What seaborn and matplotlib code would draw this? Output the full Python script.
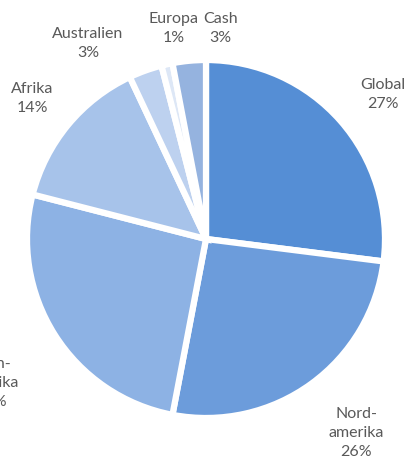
import matplotlib
matplotlib.use("Agg")
import matplotlib.pyplot as plt
import seaborn as sns

sns.set_theme(style="white")
plt.rcParams['font.family'] = ['Lato', 'DejaVu Sans']

categories = ["Global", "Nord-\namerika", "Latin-\namerika", "Afrika", "Australien", "Europa", "Cash"]
values = [27, 26, 26, 14, 3, 1, 3]
colors = ["#558ED5", "#6C9CDB", "#8DB2E4", "#A7C3EA", "#BDD1EF", "#DDE7F6", "#95B3DF"]
label_pos = [(0.99, 0.815), (0.84, -1.08), (-1.2, -0.80), (-0.97, 0.79),
             (-0.66, 1.10), (-0.18, 1.18), (0.08, 1.18)]

fig = plt.figure(figsize=(4.06, 4.64), dpi=100)
ax = fig.add_axes([27/406, 45/464, 358/406, 358/464])
ax.pie(values, colors=colors, startangle=90, counterclock=False, radius=1.0,
       wedgeprops=dict(edgecolor="white", linewidth=4.5))
ax.set_xlim(-1, 1)
ax.set_ylim(-1, 1)
ax.set_aspect("equal")
ax.axis("off")

for cat, val, (x, y) in zip(categories, values, label_pos):
    ax.text(x, y, f"{cat}\n{val}%", ha="center", va="center", fontsize=11.5,
            color="#595959", linespacing=1.45, clip_on=False)

fig.savefig("out.png", dpi=100, facecolor="white")
